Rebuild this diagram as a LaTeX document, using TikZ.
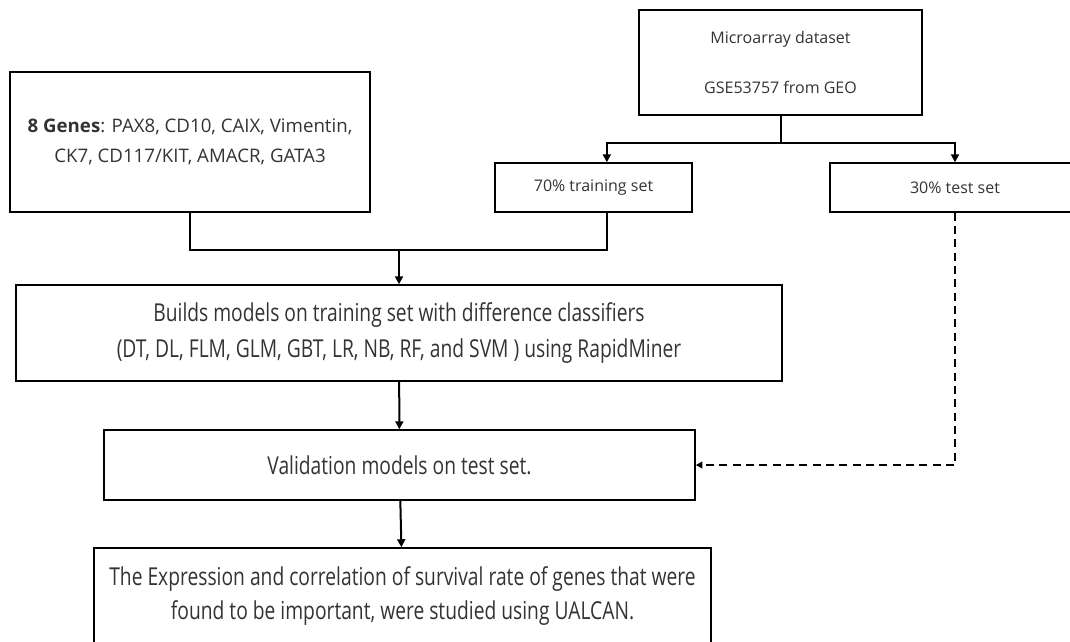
\documentclass[tikz,border=0pt]{standalone}
\usepackage{fontspec}
\setmainfont{Open Sans}
\newfontfamily\narrowfont[FakeStretch=0.78]{Open Sans}
\usetikzlibrary{arrows.meta,positioning,calc}

\begin{document}
\begin{tikzpicture}[x=0.75pt,y=-0.75pt,
  box/.style={draw,line width=1.1pt,inner sep=0pt,align=center,text=black!80,
    font=\fontsize{12}{14.4}\selectfont},
  genebox/.style={box,font=\fontsize{14}{16}\selectfont},
  narrowbox/.style={box,font=\narrowfont\fontsize{18.5}{20}\selectfont},
  link/.style={line width=1.5pt,-{Triangle[length=6pt,width=6pt]}},
  dashlink/.style={line width=1.5pt,dash pattern=on 6pt off 4pt,-{Triangle[length=5pt,width=5pt]}}]
  \useasboundingbox (0,0) rectangle (1070,642);
  \clip (0,0) rectangle (1070,642);

  % top row: inputs and data split
  \node[genebox,minimum width=270pt,minimum height=105pt] (genes) at (190,142)
    {\textbf{8 Genes}: PAX8, CD10, CAIX, Vimentin,\\[7pt]CK7, CD117/KIT, AMACR, GATA3};
  \node[box,minimum width=212.25pt,minimum height=78.75pt] (micro) at (780.5,62.5)
    {Microarray dataset\\[23.6pt]GSE53757 from GEO};
  \node[box,minimum width=147.75pt,minimum height=36.75pt] (train) at (593.5,187.5) {70\% training set};
  \node[box,minimum width=187.5pt,minimum height=36.75pt] (test) at (955,187.5) {30\% test set};

  % lower chain
  \node[narrowbox,minimum width=574.5pt,minimum height=72pt] (build) at (399,333)
    {Builds models on training set with difference classifiers\\[7pt](DT, DL, FLM, GLM, GBT, LR, NB, RF, and SVM ) using RapidMiner};
  \node[narrowbox,minimum width=443.25pt,minimum height=52.5pt] (valid) at (399.5,465)
    {Validation models on test set.};
  \node[narrowbox,minimum width=462.75pt,minimum height=72pt] (final) at (402.5,596)
    {The Expression and correlation of survival rate of genes that were\\[6pt]found to be important, were studied using UALCAN.};

  % connectors
  \coordinate (split) at ($(micro.south)+(0,27)$);
  \coordinate (tin) at ([xshift=10pt]train.north);
  \coordinate (tout) at ([xshift=10pt]train.south);
  \coordinate (join) at ($(genes.south)+(0,37)$);
  \draw[line width=1.5pt] (micro.south) -- (split);
  \draw[link] (split) -| (tin);
  \draw[link] (split) -| (test.north);
  \draw[line width=1.5pt] (genes.south) -- (join) -| (tout);
  \draw[link] (join -| build.north) -- (build.north);
  \draw[link] (build) -- (valid);
  \draw[link] (valid) -- (final);
  \draw[dashlink] (test.south) |- (valid.east);
\end{tikzpicture}
\end{document}
